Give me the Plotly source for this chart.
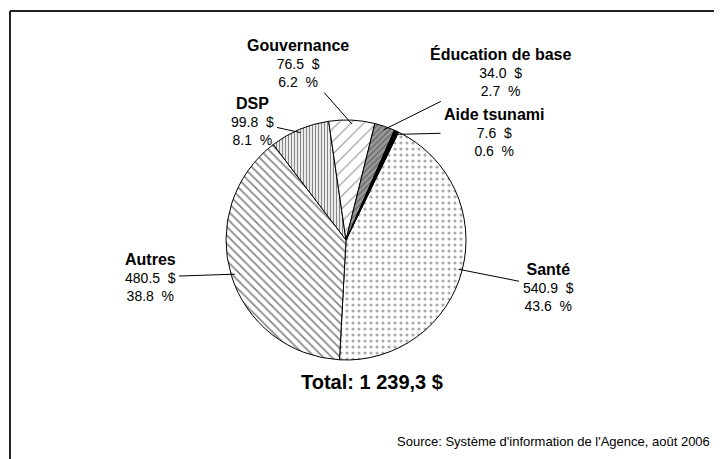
import math
import plotly.graph_objects as go

categories = ["Santé", "Autres", "DSP", "Gouvernance", "Éducation de base", "Aide tsunami"]
values = [540.9, 480.5, 99.8, 76.5, 34.0, 7.6]
total_label = "Total: 1 239,3 $"
source_label = "Source: Système d'information de l'Agence, août 2006"

total = sum(values)
pcts = [v / total * 100 for v in values]

# styling
shapes = [".", "\\", "|", "/", "/", ""]
bgcolors = ["white", "white", "white", "white", "#9a9a9a", "black"]
fgcolors = ["#555555", "#111111", "#111111", "#222222", "#333333", "black"]
sizes = [6, 6, 3, 9, 4, 8]
solidity = [0.22, 0.3, 0.45, 0.12, 0.35, 0.3]

FONT = "Liberation Sans, Arial, sans-serif"
W, H = 722, 459
OFF = 8  # page body margin
ROT = 26
CX, CY, R = 346, 240, 120  # pie centre / radius in page pixels
# label block centres in page pixels (layout)
label_pos = [(548, 287), (150, 277), (252, 122), (298, 63), (500, 72), (494, 132)]


def px(x):
    return (x - OFF) / W


def py(y):
    return 1 - (y - OFF) / H


fig = go.Figure()
fig.add_trace(go.Pie(
    labels=categories,
    values=values,
    sort=False,
    direction="clockwise",
    rotation=ROT,
    automargin=False,
    textinfo="none",
    marker=dict(
        colors=bgcolors,
        line=dict(color="black", width=1),
        pattern=dict(shape=shapes, fgcolor=fgcolors, bgcolor=bgcolors,
                     size=sizes, solidity=solidity, fillmode="overlay"),
    ),
    domain=dict(x=[px(CX - R), px(CX + R)], y=[py(CY + R), py(CY - R)]),
    showlegend=False,
    hoverinfo="skip",
))

annotations = []
cum = 0.0
for name, v, p, (lx, ly) in zip(categories, values, pcts, label_pos):
    frac = v / total
    ang = math.radians(ROT + 360 * (cum + frac / 2))
    cum += frac
    ex = CX + R * 0.97 * math.sin(ang)
    ey = CY - R * 0.97 * math.cos(ang)
    annotations.append(dict(
        x=px(ex), y=py(ey), xref="paper", yref="paper",
        ax=lx - ex, ay=ly - ey, axref="pixel", ayref="pixel",
        showarrow=True, arrowhead=0, arrowwidth=1, arrowcolor="black",
        standoff=0, startstandoff=2,
        text=f"<span style='font-size:16px'><b>{name}</b></span><br>{v:.1f}  $<br>{p:.1f}  %",
        font=dict(family=FONT, size=14, color="black"),
        align="center", xanchor="center", yanchor="middle",
    ))

annotations += [
    dict(text="<b>" + total_label + "</b>", x=px(372), y=py(382),
         xref="paper", yref="paper", showarrow=False,
         font=dict(size=20, family=FONT),
         xanchor="center", yanchor="middle"),
    dict(text=source_label, x=px(712), y=py(441),
         xref="paper", yref="paper", showarrow=False,
         font=dict(size=13, family=FONT),
         xanchor="right", yanchor="middle"),
]

fig.update_layout(
    width=W, height=H,
    margin=dict(l=0, r=0, t=0, b=0),
    paper_bgcolor="white",
    plot_bgcolor="white",
    font=dict(family=FONT, color="black"),
    shapes=[
        dict(type="line", xref="paper", yref="paper", x0=px(10), x1=1.0,
             y0=py(11), y1=py(11), line=dict(color="#222", width=2)),
        dict(type="line", xref="paper", yref="paper", x0=px(10), x1=px(10),
             y0=0, y1=py(11), line=dict(color="#222", width=2)),
    ],
    annotations=annotations,
)

fig.write_html("out.html")
